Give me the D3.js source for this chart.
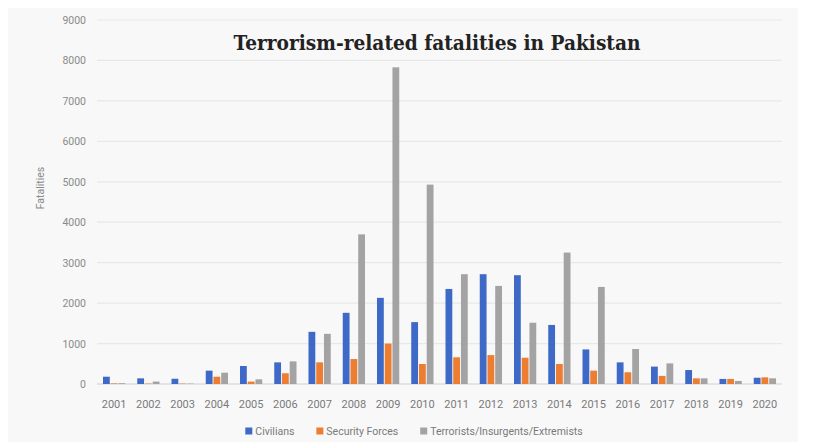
<!DOCTYPE html>
<html>
<head>
<meta charset="utf-8">
<script src="https://cdn.jsdelivr.net/npm/d3@7"></script>
<style>
  body { margin: 0; background: #fff; }
  svg { display: block; }
</style>
</head>
<body>
<script>
const years = ['2001', '2002', '2003', '2004', '2005', '2006', '2007', '2008', '2009', '2010',
  '2011', '2012', '2013', '2014', '2015', '2016', '2017', '2018', '2019', '2020'];
const seriesNames = ['Civilians', 'Security Forces', 'Terrorists/Insurgents/Extremists'];
const civilians = [180, 140, 130, 330, 445, 535, 1290, 1760, 2130, 1530,
  2350, 2715, 2690, 1460, 855, 535, 430, 345, 125, 155];
const securityForces = [15, 10, 10, 180, 60, 265, 535, 617, 1000, 495,
  660, 715, 650, 495, 330, 290, 200, 140, 125, 165];
const terrorists = [20, 60, 10, 280, 115, 560, 1240, 3700, 7830, 4930,
  2715, 2425, 1515, 3250, 2400, 865, 510, 140, 75, 140];
const yTicks = [0, 1000, 2000, 3000, 4000, 5000, 6000, 7000, 8000, 9000];
const colors = ['#3f69c6', '#ed7d31', '#a3a3a3'];

const width = 813, height = 448;
const seriesValues = [civilians, securityForces, terrorists];

const svg = d3.select('body')
  .append('svg')
  .attr('width', width)
  .attr('height', height);

svg.append('rect')
  .attr('x', 8).attr('y', 8)
  .attr('width', 790).attr('height', 434)
  .attr('fill', '#f8f8f8');

const x0 = d3.scaleBand()
  .domain(years)
  .range([97, 782])
  .paddingInner(0.35)
  .paddingOuter(0.175);

const x1 = d3.scaleBand()
  .domain(seriesNames)
  .range([0, x0.bandwidth()])
  .paddingInner(0.12);

const y = d3.scaleLinear()
  .domain([0, 9000])
  .range([384, 20]);

// gridlines
svg.append('g')
  .selectAll('line')
  .data(yTicks)
  .enter()
  .append('line')
  .attr('x1', 97)
  .attr('x2', 782)
  .attr('y1', (d) => y(d))
  .attr('y2', (d) => y(d))
  .attr('stroke', (d) => d === 0 ? '#d0d0d0' : '#e8e8e8')
  .attr('stroke-width', 1.2);

// y axis labels
svg.append('g')
  .selectAll('text')
  .data(yTicks)
  .enter()
  .append('text')
  .attr('x', 86)
  .attr('y', (d) => y(d) + 4)
  .attr('text-anchor', 'end')
  .attr('font-family', 'Roboto, sans-serif')
  .attr('font-size', 10.5)
  .attr('fill', '#8a8a8a')
  .text((d) => d);

svg.append('text')
  .attr('transform', 'translate(44, 188) rotate(-90)')
  .attr('text-anchor', 'middle')
  .attr('font-family', 'Roboto, sans-serif')
  .attr('font-size', 10.5)
  .attr('fill', '#8a8a8a')
  .text('Fatalities');

// bars
const groups = svg.append('g')
  .selectAll('g')
  .data(years)
  .enter()
  .append('g')
  .attr('transform', (d) => 'translate(' + x0(d) + ',0)');

groups.selectAll('rect')
  .data((d, i) => seriesNames.map((s, j) => ({ series: s, idx: j, value: seriesValues[j][i] })))
  .enter()
  .append('rect')
  .attr('x', (d) => x1(d.series))
  .attr('width', x1.bandwidth())
  .attr('y', (d) => y(d.value))
  .attr('height', (d) => y(0) - y(d.value))
  .attr('fill', (d) => colors[d.idx]);

// x axis labels
svg.append('g')
  .selectAll('text')
  .data(years)
  .enter()
  .append('text')
  .attr('x', (d) => x0(d) + x0.bandwidth() / 2)
  .attr('y', 408)
  .attr('text-anchor', 'middle')
  .attr('font-family', 'Roboto, sans-serif')
  .attr('font-size', 11)
  .attr('fill', '#7a7a7a')
  .text((d) => d);

// title
svg.append('text')
  .attr('x', 437)
  .attr('y', 50)
  .attr('text-anchor', 'middle')
  .attr('font-family', '"DejaVu Serif", serif')
  .attr('font-weight', 'bold')
  .attr('font-size', 21)
  .attr('textLength', 407)
  .attr('lengthAdjust', 'spacingAndGlyphs')
  .attr('fill', '#222')
  .text('Terrorism-related fatalities in Pakistan');

// legend
const legend = svg.append('g');
const items = legend.selectAll('g')
  .data(seriesNames)
  .enter()
  .append('g');

items.append('rect')
  .attr('width', 7)
  .attr('height', 7)
  .attr('y', -7.5)
  .attr('fill', (d, i) => colors[i]);

items.append('text')
  .attr('x', 10)
  .attr('y', 0)
  .attr('font-family', 'Roboto, sans-serif')
  .attr('font-size', 10.5)
  .attr('fill', '#7a7a7a')
  .text((d) => d);

let offset = 0;
const positions = [];
items.each(function() {
  const w = d3.select(this).select('text').node().getComputedTextLength() + 10;
  positions.push(offset);
  offset += w + 22;
});
const total = offset - 22;
const start = 414 - total / 2;
items.attr('transform', (d, i) => 'translate(' + (start + positions[i]) + ',435)');
</script>
</body>
</html>
